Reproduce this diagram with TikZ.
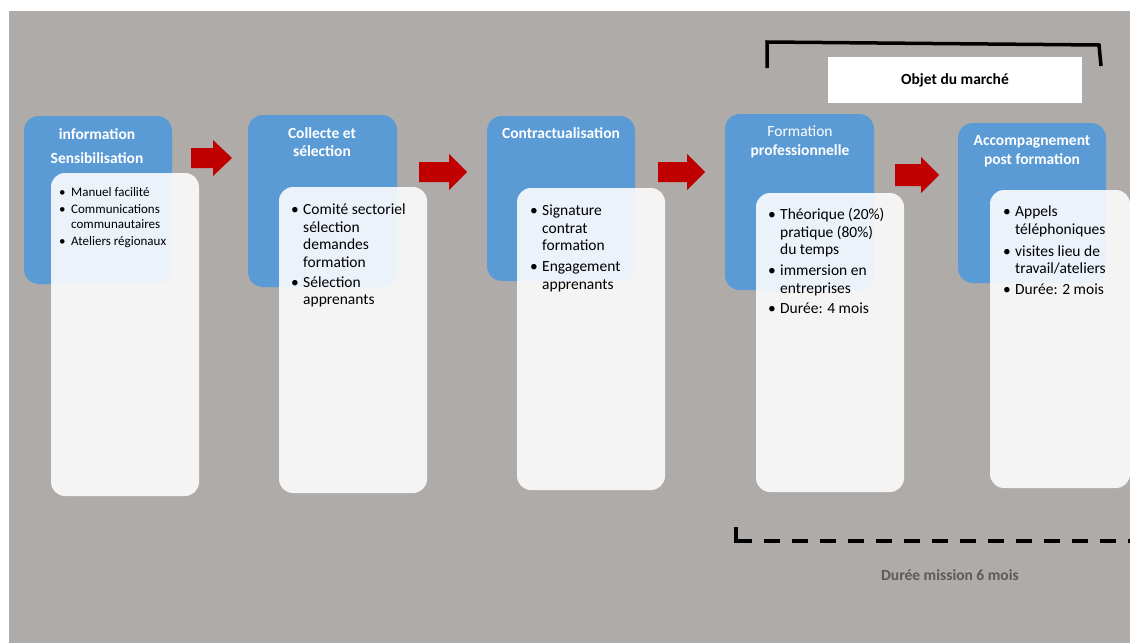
\documentclass[tikz,border=0pt]{standalone}
\usepackage{fontspec}
\setmainfont{Carlito}
\usetikzlibrary{positioning}
\definecolor{procBlue}{HTML}{5B9BD5}
\definecolor{procRed}{HTML}{C00000}
\definecolor{procGray}{HTML}{AEABA9}
\definecolor{procNote}{HTML}{5A5A5A}
\newcommand{\bul}{\makebox[12pt][l]{\textbullet}}
\newcommand{\ind}{\hspace*{12pt}}
\begin{document}
\begin{tikzpicture}[x=1pt,y=-1pt,line cap=round,line join=round]
\useasboundingbox (0,0) rectangle (1130,643);
\fill[procGray] (9,11) rectangle (1130,643);
\tikzset{stepbox/.style={fill=procBlue,rounded corners=15pt,inner sep=0pt},
  card/.style={fill=white,fill opacity=0.88,rounded corners=14pt,inner sep=0pt},
  steptitle/.style={text=white,font=\bfseries\fontsize{15.5}{18.5}\selectfont,align=center},
  items/.style={anchor=north west,inner sep=0pt,align=left,text=black,font=\fontsize{15.5}{17.5}\selectfont},
  redarrow/.style={fill=procRed},
  bracket/.style={draw=black,line width=3.5pt,line cap=butt,line join=miter}}
\node[stepbox,minimum width=148pt,minimum height=168pt] (info) at (98,200) {};
\node[stepbox,minimum width=149pt,minimum height=172pt] (collecte) at (322.5,201) {};
\node[stepbox,minimum width=148pt,minimum height=165pt] (contrat) at (561,198.5) {};
\node[stepbox,minimum width=149pt,minimum height=176pt] (formation) at (799.5,202) {};
\node[stepbox,minimum width=148pt,minimum height=160pt] (accomp) at (1032,203) {};
\node[steptitle] (infoT) at (97,146) {information\\[5.5pt]Sensibilisation};
\node[steptitle] (collecteT) at (322,142) {Collecte et\\sélection};
\node[steptitle] (contratT) at (561,133) {Contractualisation};
\node[steptitle] (formationT) at (800,142) {{\mdseries Formation}\\professionnelle};
\node[steptitle] (accompT) at (1032,151) {Accompagnement\\post formation};
\node[card,minimum width=148pt,minimum height=323pt] (infoC) at (125,334.5) {};
\node[card,minimum width=148pt,minimum height=306pt] (collecteC) at (353,340) {};
\node[card,minimum width=148pt,minimum height=302pt] (contratC) at (591,339) {};
\node[card,minimum width=148pt,minimum height=299pt] (formationC) at (830,342.5) {};
\node[card,minimum width=140pt,minimum height=298pt] (accompC) at (1060,339) {};
\node[items,font=\fontsize{13}{15}\selectfont] (infoL) at (59,187) {\bul Manuel facilité\\[2pt]\bul Communications\\\ind communautaires\\[2pt]\bul Ateliers régionaux};
\node[items] (collecteL) at (291,204) {\bul Comité sectoriel\\\ind sélection\\\ind demandes\\\ind formation\\[2.5pt]\bul Sélection\\\ind apprenants};
\node[items] (contratL) at (530,205) {\bul Signature\\\ind contrat\\\ind formation\\[3.5pt]\bul Engagement\\\ind apprenants};
\node[items] (formationL) at (768,208) {\bul Théorique (20\%)\\\ind pratique (80\%)\\\ind du temps\\[3.5pt]\bul immersion en\\\ind entreprises\\[3pt]\bul Durée: 4 mois};
\node[items] (accompL) at (1003,206) {\bul Appels\\\ind téléphoniques\\[4.5pt]\bul visites lieu de\\\ind travail/ateliers\\[3.5pt]\bul Durée: 2 mois};
\fill[redarrow] (191,148) -- ++(22,0) -- ++(0,-8) -- ++(19,18) -- ++(-19,18) -- ++(0,-8) -- ++(-22,0) -- cycle;
\fill[redarrow] (419,162) -- ++(30,0) -- ++(0,-8) -- ++(18,18) -- ++(-18,18) -- ++(0,-8) -- ++(-30,0) -- cycle;
\fill[redarrow] (658,162) -- ++(29,0) -- ++(0,-8) -- ++(18,18) -- ++(-18,18) -- ++(0,-8) -- ++(-29,0) -- cycle;
\fill[redarrow] (895,164) -- ++(26,0) -- ++(0,-7) -- ++(18,18) -- ++(-18,18) -- ++(0,-7) -- ++(-26,0) -- cycle;
\draw[bracket] (767,68) -- (767,42) -- (1099,45) -- (1101,66);
\node[fill=white,minimum width=254pt,minimum height=46pt,font=\bfseries\fontsize{15.5}{18}\selectfont] (objet) at (955,80) {Objet du marché};
\draw[bracket,line width=4pt] (736,527) -- (736,541) -- (752,541);
\draw[bracket,line width=4pt,dash pattern=on 16pt off 12pt] (764,541) -- (1130,541);
\node[text=procNote,font=\bfseries\fontsize{15.5}{18}\selectfont] (duree) at (950,575) {Durée mission 6 mois};
\end{tikzpicture}
\end{document}
